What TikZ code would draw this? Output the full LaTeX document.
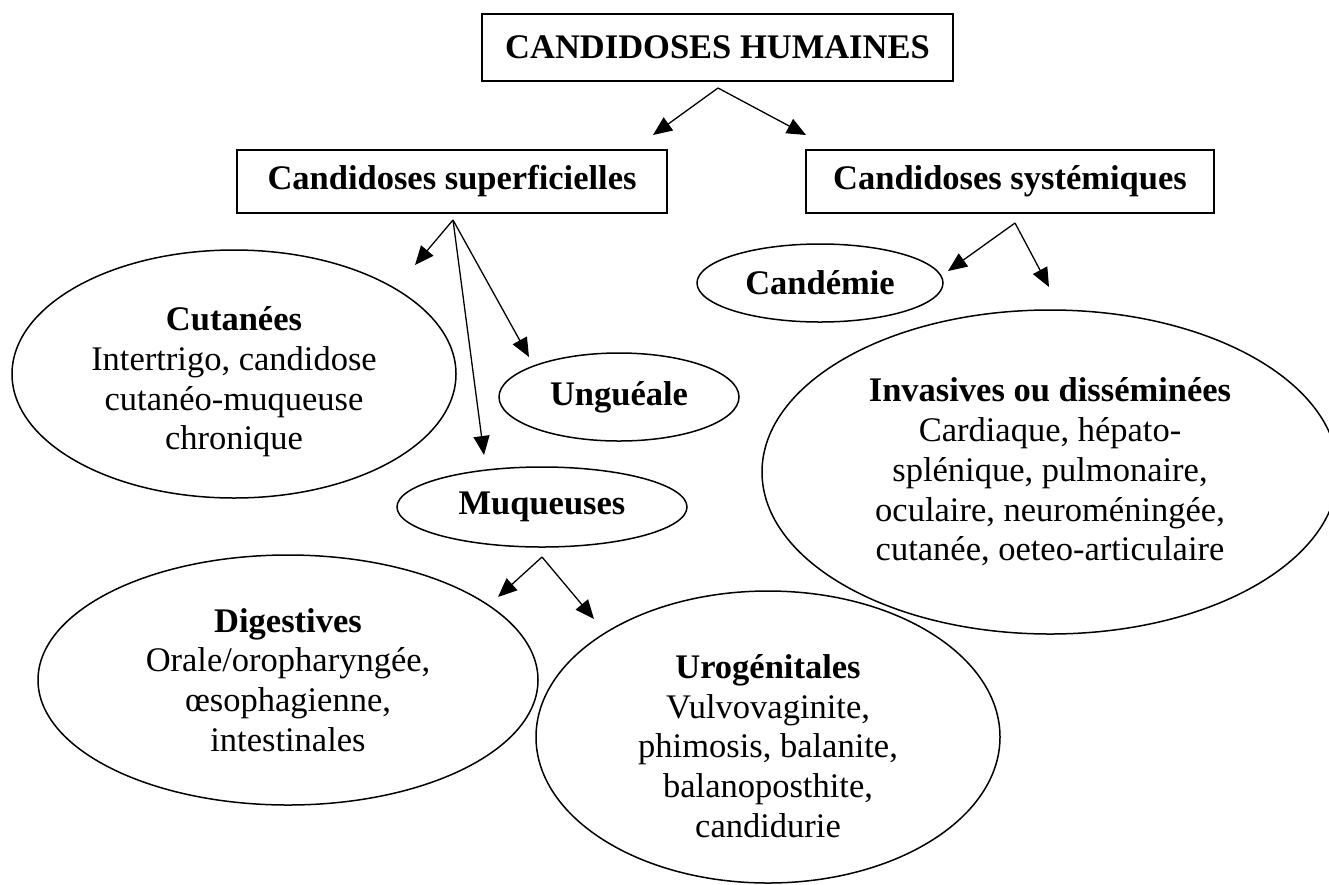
\documentclass[tikz,border=0pt]{standalone}
\usepackage{fontspec}
\setmainfont{Liberation Serif}
\usetikzlibrary{shapes.geometric,arrows.meta}
\begin{document}
\begin{tikzpicture}[x=1pt,y=-1pt,
  txt/.style={font=\fontsize{34.5pt}{39.7pt}\selectfont, align=center, inner sep=0pt},
  titlebox/.style={draw, line width=1.6pt, rectangle, inner sep=0pt,
    font=\fontsize{34.5pt}{39.7pt}\selectfont\bfseries},
  oval/.style={draw, ellipse, line width=1.5pt, inner sep=0pt},
  ovaltxt/.style={oval, font=\fontsize{34.5pt}{39.7pt}\selectfont\bfseries},
  arr/.style={line width=1.3pt, -{Triangle[length=19pt,width=16pt]}}]
\useasboundingbox (0,0) rectangle (1329,884);
\clip (0,0) rectangle (1329,884);
\fill[white] (0,0) rectangle (1329,884);

% boxes
\node[titlebox, minimum width=471pt, minimum height=67pt] (top) at (717.5,47.5) {CANDIDOSES HUMAINES};
\node[titlebox, minimum width=430pt, minimum height=63pt] (sup) at (452,181.5) {Candidoses superficielles};
\node[titlebox, minimum width=408pt, minimum height=63pt] (sys) at (1010,181.5) {Candidoses systémiques};

% ellipses
\node[oval, minimum width=444pt, minimum height=248pt] (cut) at (234,374) {};
\node[txt] (cutt) at ([yshift=-8pt]cut.center) {\textbf{Cutanées}\\Intertrigo, candidose\\cutanéo-muqueuse\\chronique};

\node[ovaltxt, minimum width=240pt, minimum height=88pt] (ung) at (619,397) {Unguéale};
\node[ovaltxt, minimum width=290pt, minimum height=80pt] (muq) at (542,507) {Muqueuses};
\node[ovaltxt, minimum width=246pt, minimum height=78pt] (cand) at (820,283) {Candémie};

\node[oval, minimum width=500pt, minimum height=250pt] (dig) at (288,680) {};
\node[txt] (digt) at (dig.center) {\textbf{Digestives}\\Orale/oropharyngée,\\œsophagienne,\\intestinales};

\node[oval, minimum width=464pt, minimum height=292pt] (uro) at (768,737) {};
\node[txt] (urot) at ([yshift=-9pt]uro.center) {\textbf{Urogénitales}\\Vulvovaginite,\\phimosis, balanite,\\balanoposthite,\\candidurie};

\node[oval, minimum width=576pt, minimum height=324pt] (inv) at (1050,472) {};
\node[txt] (invt) at (inv.center) {\textbf{Invasives ou disséminées}\\Cardiaque, hépato-\\splénique, pulmonaire,\\oculaire, neuroméningée,\\cutanée, oeteo-articulaire};

% connector points
\coordinate (s0) at (718,88);
\coordinate (e0a) at (653,135);
\coordinate (e0b) at (806,135);
\coordinate (s1) at (453,220);
\coordinate (e1a) at (415,265);
\coordinate (e1b) at (484,455);
\coordinate (e1c) at (529,357);
\coordinate (s2) at (1015,223);
\coordinate (e2a) at (948,271);
\coordinate (e2b) at (1049,287);
\coordinate (s3) at (542,557);
\coordinate (e3a) at (498,597);
\coordinate (e3b) at (594,619);

\draw[arr] (s0) -- (e0a);
\draw[arr] (s0) -- (e0b);
\draw[arr] (s1) -- (e1a);
\draw[arr] (s1) -- (e1b);
\draw[arr] (s1) -- (e1c);
\draw[arr] (s2) -- (e2a);
\draw[arr] (s2) -- (e2b);
\draw[arr] (s3) -- (e3a);
\draw[arr] (s3) -- (e3b);
\end{tikzpicture}
\end{document}
